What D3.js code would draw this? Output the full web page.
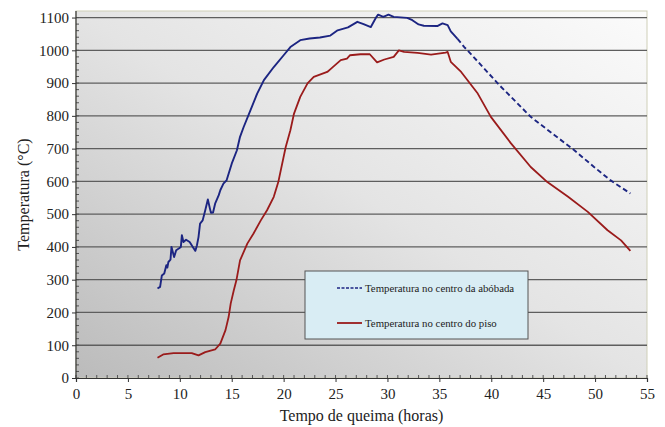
<!DOCTYPE html>
<html>
<head>
<meta charset="utf-8">
<script src="https://cdn.jsdelivr.net/npm/d3@7"></script>
<style>
  body { margin: 0; background: #fff; }
</style>
</head>
<body>
<svg id="chart"></svg>
<script>
const width = 665;
const height = 427;
const margin = { top: 11, right: 18, bottom: 49, left: 76 };
const serif = "'Liberation Serif', serif";

// Temperatura no centro da abóbada
const tempoAbobada = [7.85, 8.1, 8.27, 8.5, 8.7, 8.8, 8.9, 9.1, 9.2, 9.45, 9.65, 9.9, 10.1, 10.2, 10.35, 10.6, 10.95, 11.25, 11.5, 11.65, 11.8, 11.95, 12.2, 12.45, 12.7, 12.9, 13.0, 13.2, 13.4, 13.75, 13.9, 14.2, 14.5, 15.0, 15.5, 15.8, 16.15, 16.8, 17.45, 18.1, 19.05, 20.0, 20.65, 21.6, 22.5, 23.5, 24.5, 25.2, 26.2, 27.1, 27.7, 28.4, 28.9, 29.1, 29.6, 30.1, 30.6, 31.9, 32.4, 33.0, 33.5, 34.8, 35.3, 35.8, 36.1, 36.75];
const tempAbobada = [273, 278, 313, 319, 344, 337, 354, 361, 400, 369, 390, 395, 400, 436, 415, 422, 415, 400, 388, 405, 430, 471, 481, 512, 545, 517, 504, 505, 532, 558, 573, 593, 603, 654, 695, 736, 766, 817, 868, 909, 949, 985, 1010, 1031, 1036, 1039, 1045, 1061, 1070, 1087, 1080, 1071, 1100, 1109, 1102, 1109, 1102, 1099, 1092, 1079, 1075, 1074, 1082, 1077, 1058, 1035];
// trecho tracejado (resfriamento)
const tempoAbobadaResfr = [36.75, 37.4, 38.0, 39.3, 40.8, 41.9, 43.8, 46.1, 48.0, 49.9, 51.5, 53.4];
const tempAbobadaResfr = [1035, 1010, 990, 945, 893, 858, 797, 741, 695, 644, 603, 563];

// Temperatura no centro do piso
const tempoPiso = [7.85, 8.4, 9.4, 10.35, 11.15, 11.8, 12.45, 13.4, 13.9, 14.4, 14.7, 14.9, 15.2, 15.45, 15.8, 16.5, 17.1, 17.8, 18.4, 19.05, 19.5, 20.2, 20.65, 21.0, 21.6, 22.3, 22.9, 24.2, 24.6, 25.5, 26.1, 26.4, 27.4, 28.3, 29.0, 29.7, 30.6, 31.1, 31.6, 32.9, 34.2, 35.6, 35.8, 36.1, 37.1, 38.7, 39.96, 41.9, 43.8, 45.4, 47.4, 49.3, 51.2, 52.5, 53.4];
const tempPiso = [62, 72, 76, 76, 76, 69, 79, 87, 105, 146, 186, 227, 268, 298, 359, 410, 441, 481, 512, 553, 600, 705, 756, 807, 858, 899, 919, 934, 945, 970, 975, 985, 988, 988, 963, 972, 980, 1000, 995, 992, 987, 993, 995, 965, 934, 868, 797, 716, 644, 598, 553, 507, 451, 420, 388];

const xTicks = [0, 5, 10, 15, 20, 25, 30, 35, 40, 45, 50, 55];
const yTicks = [0, 100, 200, 300, 400, 500, 600, 700, 800, 900, 1000, 1100];

const legendLabels = ['Temperatura no centro da abóbada', 'Temperatura no centro do piso'];
const blue = '#1c2582';
const red = '#9a1b1b';

const svg = d3.select('#chart')
    .attr('width', width)
    .attr('height', height)
    .attr('font-family', serif);

const x = d3.scaleLinear().domain([0, 55]).range([margin.left, width - margin.right]);
const y = d3.scaleLinear().domain([0, 1120]).range([height - margin.bottom, margin.top]);

// background gradient of plot area
const defs = svg.append('defs');
const grad = defs.append('linearGradient')
    .attr('id', 'bg')
    .attr('x1', '0%').attr('y1', '100%')
    .attr('x2', '100%').attr('y2', '0%');
grad.append('stop').attr('offset', '0%').attr('stop-color', '#bbbbbb');
grad.append('stop').attr('offset', '50%').attr('stop-color', '#e4e4e4');
grad.append('stop').attr('offset', '100%').attr('stop-color', '#fbfbfb');

svg.append('rect')
    .attr('x', x(0))
    .attr('y', margin.top)
    .attr('width', x(55) - x(0))
    .attr('height', y(0) - margin.top)
    .attr('fill', 'url(#bg)')
    .attr('stroke', '#cfcfb8')
    .attr('stroke-width', 1);

// gridlines
svg.append('g')
    .selectAll('line')
    .data(yTicks.filter(d => d > 0))
    .enter()
    .append('line')
    .attr('x1', x(0))
    .attr('x2', x(55))
    .attr('y1', d => y(d))
    .attr('y2', d => y(d))
    .attr('stroke', '#5e5e5e')
    .attr('stroke-width', 1.3);

// minor ticks
svg.append('g')
    .selectAll('line')
    .data(d3.range(0, 1120, 20))
    .enter()
    .append('line')
    .attr('x1', x(0))
    .attr('x2', x(0) + 3)
    .attr('y1', d => y(d))
    .attr('y2', d => y(d))
    .attr('stroke', '#555');

svg.append('g')
    .selectAll('line')
    .data(d3.range(0, 56, 1))
    .enter()
    .append('line')
    .attr('x1', d => x(d))
    .attr('x2', d => x(d))
    .attr('y1', y(0))
    .attr('y2', y(0) - 3)
    .attr('stroke', '#555');

// axes
const yAxis = svg.append('g')
    .attr('transform', `translate(${x(0)},0)`)
    .call(d3.axisLeft(y).tickValues(yTicks).tickFormat(d3.format('d')).tickSize(4).tickPadding(3));
const xAxis = svg.append('g')
    .attr('transform', `translate(0,${y(0)})`)
    .call(d3.axisBottom(x).tickValues(xTicks).tickFormat(d3.format('d')).tickSize(4).tickPadding(6));

[yAxis, xAxis].forEach(a => {
    a.attr('font-family', serif).attr('font-size', 15);
    a.select('.domain').attr('stroke', '#333').attr('stroke-width', 1.2);
    a.selectAll('.tick line').attr('stroke', '#333');
    a.selectAll('.tick text').attr('fill', '#222');
});
yAxis.select('.domain').attr('d', `M0,${y(1120)}V${y(0)}`);

// lines
const line = d3.line()
    .x(d => x(d[0]))
    .y(d => y(d[1]));

svg.append('path')
    .datum(d3.zip(tempoPiso, tempPiso))
    .attr('fill', 'none')
    .attr('stroke', red)
    .attr('stroke-width', 1.8)
    .attr('stroke-linejoin', 'round')
    .attr('d', line);

svg.append('path')
    .datum(d3.zip(tempoAbobada, tempAbobada))
    .attr('fill', 'none')
    .attr('stroke', blue)
    .attr('stroke-width', 1.9)
    .attr('stroke-linejoin', 'round')
    .attr('d', line);

svg.append('path')
    .datum(d3.zip(tempoAbobadaResfr, tempAbobadaResfr))
    .attr('fill', 'none')
    .attr('stroke', blue)
    .attr('stroke-width', 1.9)
    .attr('stroke-dasharray', '5,3')
    .attr('d', line);

// legend
const legend = svg.append('g').attr('transform', 'translate(305,271)');
legend.append('rect')
    .attr('width', 223)
    .attr('height', 68)
    .attr('fill', '#d9edf4')
    .attr('stroke', '#555')
    .attr('stroke-width', 1);

legendLabels.forEach((label, i) => {
    const ly = 17 + i * 35;
    legend.append('line')
        .attr('x1', 32).attr('x2', 57)
        .attr('y1', ly).attr('y2', ly)
        .attr('stroke', i === 0 ? blue : red)
        .attr('stroke-width', i === 0 ? 1.3 : 1.8)
        .attr('stroke-dasharray', i === 0 ? '3,1.5' : null);
    legend.append('text')
        .attr('x', 60)
        .attr('y', ly + 4)
        .attr('font-family', serif)
        .attr('font-size', 10.8)
        .attr('fill', '#222')
        .text(label);
});

// axis titles
svg.append('text')
    .attr('x', (x(0) + x(55)) / 2)
    .attr('y', 421)
    .attr('text-anchor', 'middle')
    .attr('font-family', serif)
    .attr('font-size', 16)
    .attr('fill', '#222')
    .text('Tempo de queima (horas)');

svg.append('text')
    .attr('transform', `translate(29,${(y(0) + y(1120)) / 2}) rotate(-90)`)
    .attr('text-anchor', 'middle')
    .attr('font-family', serif)
    .attr('font-size', 16)
    .attr('fill', '#222')
    .text('Temperatura (°C)');
</script>
</body>
</html>
